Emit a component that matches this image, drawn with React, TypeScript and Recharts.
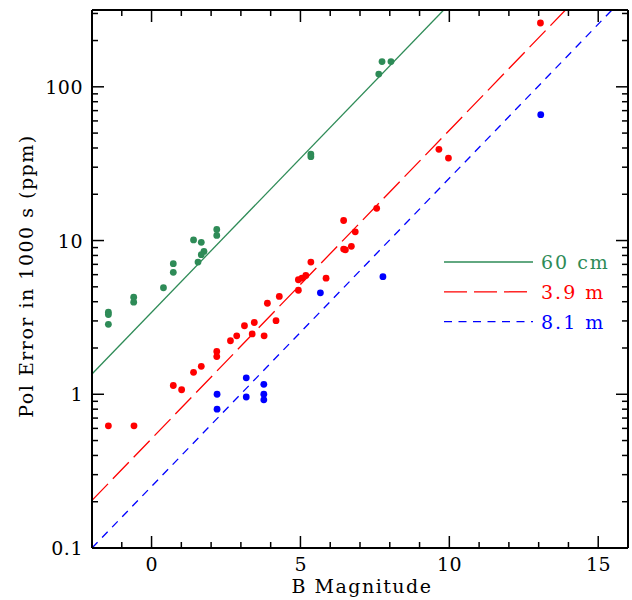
import React from 'react';
import { ComposedChart, Scatter, Line, XAxis, YAxis, ReferenceDot, Legend } from 'recharts';

// ---- data ----
const wsuMag = [-1.45, -1.45, -1.45, -0.6, -0.6, 0.4, 0.73, 0.73, 1.41, 1.67, 1.76, 1.67, 1.56, 2.19, 2.19, 5.35, 5.35, 7.63, 7.74, 8.04];
const wsuErr = [3.42, 3.3, 2.85, 4.28, 3.97, 4.93, 7.07, 6.21, 10.1, 9.73, 8.5, 8.09, 7.24, 11.8, 10.8, 36.5, 35.1, 121, 146, 146];

const aatMag = [-1.45, -0.59, 0.73, 1.01, 1.41, 1.67, 2.19, 2.19, 2.65, 2.86, 3.12, 3.38, 3.45, 3.78, 3.89, 4.18, 4.29, 4.93, 5.05, 5.18, 4.93, 5.35, 5.86, 6.45, 6.84, 6.45, 6.51, 6.71, 7.56, 9.65, 9.97, 13.06];
const aatErr = [0.623, 0.623, 1.14, 1.07, 1.39, 1.52, 1.9, 1.76, 2.23, 2.4, 2.79, 2.47, 2.93, 2.4, 3.91, 3.01, 4.33, 5.56, 5.7, 5.93, 4.75, 7.24, 5.69, 13.5, 11.4, 8.8, 8.7, 9.17, 16.2, 39.2, 34.4, 260];

const geminiMag = [2.2, 2.2, 3.18, 3.18, 3.77, 3.77, 3.77, 5.67, 7.77, 13.07];
const geminiErr = [1.0, 0.8, 1.28, 0.96, 1.16, 1.0, 0.92, 4.57, 5.82, 65.9];

// model lines (end points)
const line60cmMag = [-2, 9.81];
const line60cmErr = [1.355, 316];
const line39mMag = [-2, 13.9];
const line39mErr = [0.204, 316];
const line81mMag = [-2, 15.46];
const line81mErr = [0.1, 316];

const xTicks = [-2, -1, 0, 1, 2, 3, 4, 5, 6, 7, 8, 9, 10, 11, 12, 13, 14, 15, 16];
const xTickLabels = [0, 5, 10, 15];
const yTicks = [0.1, 0.2, 0.3, 0.4, 0.5, 0.6, 0.7, 0.8, 0.9, 1, 2, 3, 4, 5, 6, 7, 8, 9, 10, 20, 30, 40, 50, 60, 70, 80, 90, 100, 200, 300];
const yTickLabels = [0.1, 1, 10, 100];

const legendItems = [
  { label: '60 cm', color: '#2e8b57', dash: undefined as string | undefined },
  { label: '3.9 m', color: '#ff0000', dash: '23 7' },
  { label: '8.1 m', color: '#0000ff', dash: '8 6.5' },
];

const GREEN = '#2e8b57';
const RED = '#ff0000';
const BLUE = '#0000ff';
const FONT = 'DejaVu Serif';
const FS = 19;
const LS = 1.5;

const zip = (xs: number[], ys: number[]) => xs.map((x, i) => ({ x, y: ys[i] }));
const wsuData = zip(wsuMag, wsuErr);
const aatData = zip(aatMag, aatErr);
const geminiData = zip(geminiMag, geminiErr);
const l60 = zip(line60cmMag, line60cmErr);
const l39 = zip(line39mMag, line39mErr);
const l81 = zip(line81mMag, line81mErr);

const MAJOR = 12;
const MINOR = 6;

const XTick = (top: boolean) => (props: any) => {
  const { x, y, payload } = props;
  const major = xTickLabels.includes(payload.value);
  const len = major ? MAJOR : MINOR;
  return (
    <g>
      <line x1={x} x2={x} y1={y} y2={top ? y + len : y - len} stroke="#000" strokeWidth={1.5} />
      {!top && major && (
        <text x={x + 0.3} y={y + 23} textAnchor="middle" fontFamily={FONT} fontSize={FS} letterSpacing={0.5} fill="#000">
          {payload.value}
        </text>
      )}
    </g>
  );
};

const YTick = (right: boolean) => (props: any) => {
  const { x, y, payload } = props;
  const v = payload.value;
  const major = yTickLabels.some((t) => Math.abs(t - v) < 1e-9);
  const len = major ? MAJOR : MINOR;
  return (
    <g>
      <line x1={x} x2={right ? x - len : x + len} y1={y} y2={y} stroke="#000" strokeWidth={1.5} />
      {!right && major && (
        <text x={x - 9} y={y + 7} textAnchor="end" fontFamily={FONT} fontSize={FS} letterSpacing={0.5} fill="#000">
          {String(v)}
        </text>
      )}
    </g>
  );
};

const dot = (color: string) => (p: any) => <circle cx={p.cx} cy={p.cy} r={3.4} fill={color} />;

const LegendBox = () => (
  <svg width={190} height={90}>
    {legendItems.map((it, i) => (
      <g key={it.label}>
        <line x1={4} x2={93} y1={12 + i * 29.8} y2={12 + i * 29.8} stroke={it.color} strokeWidth={1.3} strokeDasharray={it.dash} />
        <text x={101} y={19 + i * 29.8} fontFamily={FONT} fontSize={FS} letterSpacing={2} fill={it.color}>
          {it.label}
        </text>
      </g>
    ))}
  </svg>
);

const labelStyle = (fill: string) => ({
  position: 'center' as const,
  fill,
  fontFamily: FONT,
  fontSize: FS,
  letterSpacing: LS,
});

export default function App() {
  return (
    <div style={{ position: 'absolute', left: 0, top: 0, width: 632, height: 600, background: '#fff' }}>
      <ComposedChart width={632} height={600} margin={{ top: 9, right: 3, bottom: 51, left: 91 }}>
        <XAxis
          dataKey="x"
          type="number"
          domain={[-2, 16]}
          ticks={xTicks}
          interval={0}
          height={1}
          tickSize={0}
          tickMargin={0}
          tickLine={false}
          tick={XTick(false)}
          axisLine={{ stroke: '#000', strokeWidth: 2 }}
          allowDataOverflow
          label={{
            content: () => (
              <text x={362} y={593} textAnchor="middle" fontFamily={FONT} fontSize={FS} letterSpacing={LS} fill="#000">
                B Magnitude
              </text>
            ),
          }}
        />
        <XAxis
          xAxisId="t"
          orientation="top"
          dataKey="x"
          type="number"
          domain={[-2, 16]}
          ticks={xTicks}
          interval={0}
          height={1}
          tickSize={0}
          tickMargin={0}
          tickLine={false}
          tick={XTick(true)}
          axisLine={{ stroke: '#000', strokeWidth: 2 }}
          allowDataOverflow
        />
        <YAxis
          dataKey="y"
          type="number"
          scale="log"
          domain={[0.1, 316]}
          ticks={yTicks}
          interval={0}
          width={1}
          tickSize={0}
          tickMargin={0}
          tickLine={false}
          tick={YTick(false)}
          axisLine={{ stroke: '#000', strokeWidth: 2 }}
          allowDataOverflow
          label={{
            content: () => (
              <text
                x={33}
                y={276}
                textAnchor="middle"
                fontFamily={FONT}
                fontSize={FS}
                letterSpacing={LS}
                fill="#000"
                transform="rotate(-90 33 276)"
              >
                Pol Error in 1000 s (ppm)
              </text>
            ),
          }}
        />
        <YAxis
          yAxisId="r"
          orientation="right"
          dataKey="y"
          type="number"
          scale="log"
          domain={[0.1, 316]}
          ticks={yTicks}
          interval={0}
          width={1}
          tickSize={0}
          tickMargin={0}
          tickLine={false}
          tick={YTick(true)}
          axisLine={{ stroke: '#000', strokeWidth: 2 }}
          allowDataOverflow
        />
        <Line data={l60} dataKey="y" stroke={GREEN} strokeWidth={1.3} dot={false} isAnimationActive={false} legendType="none" />
        <Line data={l39} dataKey="y" stroke={RED} strokeWidth={1.3} strokeDasharray="23 7" dot={false} isAnimationActive={false} legendType="none" />
        <Line data={l81} dataKey="y" stroke={BLUE} strokeWidth={1.3} strokeDasharray="8 6.5" dot={false} isAnimationActive={false} legendType="none" />
        <Scatter data={wsuData} dataKey="y" shape={dot(GREEN)} isAnimationActive={false} />
        <Scatter data={aatData} dataKey="y" shape={dot(RED)} isAnimationActive={false} />
        <Scatter data={geminiData} dataKey="y" shape={dot(BLUE)} isAnimationActive={false} />
        <ReferenceDot x={-0.3} y={8.5} r={1} fill="none" stroke="none" label={labelStyle(GREEN)} />
        <ReferenceDot x={3.52} y={5.27} r={1} fill="none" stroke="none" label={labelStyle(RED)} />
        <ReferenceDot x={6.1} y={1.31} r={1} fill="none" stroke="none" label={labelStyle(BLUE)} />
        <Legend
          layout="horizontal"
          verticalAlign="middle"
          align="center"
          content={() => <LegendBox />}
          wrapperStyle={{ left: 440, top: 250, width: 190, height: 90 }}
        />
      </ComposedChart>
    </div>
  );
}
